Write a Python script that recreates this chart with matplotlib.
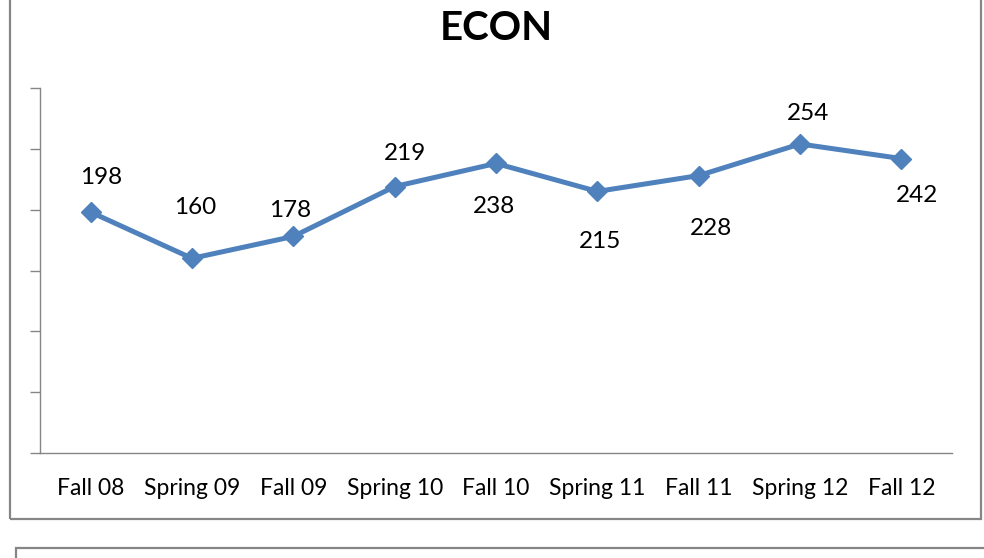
import matplotlib
matplotlib.use("Agg")
import matplotlib.pyplot as plt
from matplotlib.patches import Rectangle

categories = ["Fall 08", "Spring 09", "Fall 09", "Spring 10", "Fall 10",
              "Spring 11", "Fall 11", "Spring 12", "Fall 12"]
values = [198, 160, 178, 219, 238, 215, 228, 254, 242]
# label offsets in pixels (dx, dy)
label_offsets = [(10, 35), (3, 51), (-3, 26), (10, 33), (-2, -43),
                 (3, -50), (12, -53), (8, 30), (16, -37)]

plt.rcParams['font.family'] = ['Lato', 'DejaVu Sans']

W, H = 984, 558
fig = plt.figure(figsize=(W / 100, H / 100), dpi=100)
fig.patch.set_facecolor('white')

def fx(px):
    return px / W

def fy(py):
    return 1 - py / H

# outer frames
fig.patches.append(Rectangle((fx(10), fy(519)), fx(971), fy(-10) - fy(519),
                             transform=fig.transFigure, fill=False,
                             edgecolor='#868686', linewidth=1.6))
fig.patches.append(Rectangle((fx(16), fy(600)), fx(990), fy(548) - fy(600),
                             transform=fig.transFigure, fill=False,
                             edgecolor='#868686', linewidth=1.6))

ax = fig.add_axes([fx(40), fy(453), fx(952) - fx(40), fy(88) - fy(453)])
x = list(range(len(categories)))
ax.plot(x, values, color='#4F81BD', linewidth=3.6, marker='D',
        markersize=10, markerfacecolor='#4F81BD', markeredgecolor='#4F81BD',
        zorder=3)
ax.set_xlim(-0.5, len(categories) - 0.5)
ax.set_ylim(0, 300)
ax.set_yticks(range(0, 301, 50))
ax.set_yticklabels([])
ax.set_xticks(x)
ax.set_xticklabels(categories, fontsize=16.5)
ax.tick_params(axis='x', length=0, pad=18)
ax.tick_params(axis='y', length=7, width=1, color='#868686', direction='out')
for s in ['top', 'right']:
    ax.spines[s].set_visible(False)
ax.spines['left'].set_color('#868686')
ax.spines['bottom'].set_color('#868686')
ax.spines['left'].set_linewidth(1)
ax.spines['bottom'].set_linewidth(1)
ax.set_facecolor('none')

for xi, v, (dx, dy) in zip(x, values, label_offsets):
    ax.annotate(str(v), (xi, v), xytext=(dx, dy), textcoords='offset pixels',
                ha='center', va='center', fontsize=17.5)

fig.text(fx(496), fy(28), "ECON", ha='center', va='center',
         fontsize=29, fontweight='bold')

fig.savefig("out.png", dpi=100)
